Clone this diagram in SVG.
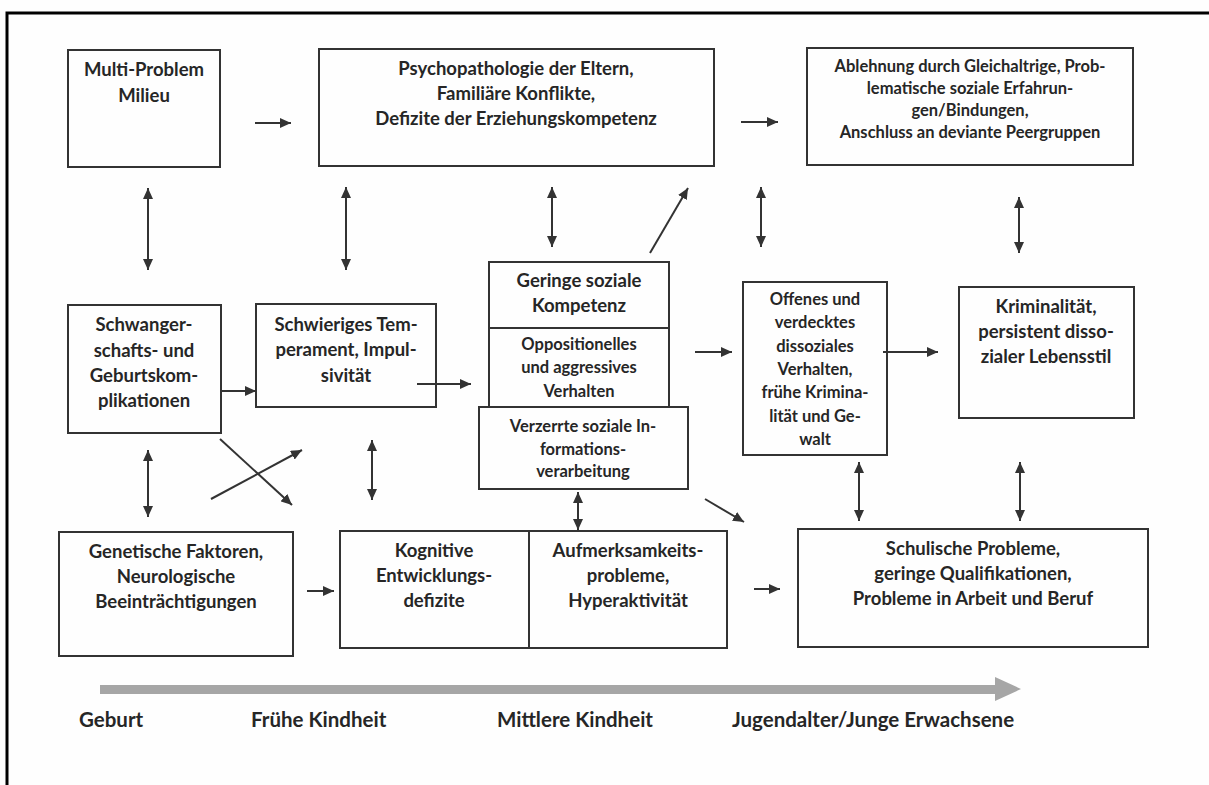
<svg xmlns="http://www.w3.org/2000/svg" width="1209" height="785" viewBox="0 0 1209 785">
<style>
.box{fill:none;stroke:#333;stroke-width:2}
.t{font-family:Lato,"Open Sans","Liberation Sans",sans-serif;font-weight:bold;font-size:18.5px;fill:#262626;text-anchor:middle}
.s{font-size:16.5px}
.lbl{font-family:Lato,"Open Sans","Liberation Sans",sans-serif;font-weight:bold;font-size:20.5px;fill:#262626}
.c{stroke:#333;stroke-width:2;fill:none;marker-end:url(#ah)}
.d{marker-start:url(#ah)}
</style>
<defs>
<marker id="ah" markerUnits="userSpaceOnUse" markerWidth="12" markerHeight="10" refX="11" refY="5" orient="auto-start-reverse">
<path d="M0,0 L11,5 L0,10 z" fill="#333"/>
</marker>
</defs>
<rect x="0" y="0" width="1209" height="785" fill="#fefefe"/>
<path d="M7,785 V13 H1209" fill="none" stroke="#000" stroke-width="3"/>

<g id="n-multi"><rect class="box" x="68" y="50" width="152" height="117"/>
<text class="t" x="144" y="76">Multi-Problem</text><text class="t" x="144" y="102">Milieu</text></g>

<g id="n-psych"><rect class="box" x="319" y="49" width="395" height="117"/>
<text class="t" x="516" y="75">Psychopathologie der Eltern,</text>
<text class="t" x="516" y="100">Familiäre Konflikte,</text>
<text class="t" x="516" y="125">Defizite der Erziehungskompetenz</text></g>

<g id="n-ablehnung"><rect class="box" x="807" y="48" width="326" height="117"/>
<text class="t s" x="970" y="72">Ablehnung durch Gleichaltrige, Prob-</text>
<text class="t s" x="970" y="94">lematische soziale Erfahrun-</text>
<text class="t s" x="970" y="116">gen/Bindungen,</text>
<text class="t s" x="970" y="138">Anschluss an deviante Peergruppen</text></g>

<g id="n-schwanger"><rect class="box" x="68" y="305" width="153" height="128"/>
<text class="t" x="144" y="331">Schwanger-</text>
<text class="t" x="144" y="357">schafts- und</text>
<text class="t" x="144" y="382">Geburtskom-</text>
<text class="t" x="144" y="407">plikationen</text></g>

<g id="n-temperament"><rect class="box" x="256" y="304" width="180" height="103"/>
<text class="t" x="346" y="331">Schwieriges Tem-</text>
<text class="t" x="346" y="356">perament, Impul-</text>
<text class="t" x="346" y="382">sivität</text></g>

<g id="n-geringe"><rect class="box" x="489" y="262" width="180" height="66"/>
<text class="t" x="579" y="287">Geringe soziale</text>
<text class="t" x="579" y="312">Kompetenz</text></g>

<g id="n-opposition"><rect class="box" x="489" y="328" width="180" height="79"/>
<text class="t s" x="579" y="350">Oppositionelles</text>
<text class="t s" x="579" y="373">und aggressives</text>
<text class="t s" x="579" y="397">Verhalten</text></g>

<g id="n-verzerrte"><rect class="box" x="479" y="407" width="209" height="82"/>
<text class="t s" x="583" y="432">Verzerrte soziale In-</text>
<text class="t s" x="583" y="455">formations-</text>
<text class="t s" x="583" y="477">verarbeitung</text></g>

<g id="n-offenes"><rect class="box" x="743" y="282" width="144" height="173"/>
<text class="t s" x="815" y="305">Offenes und</text>
<text class="t s" x="815" y="328">verdecktes</text>
<text class="t s" x="815" y="352">dissoziales</text>
<text class="t s" x="815" y="375">Verhalten,</text>
<text class="t s" x="815" y="398">frühe Krimina-</text>
<text class="t s" x="815" y="422">lität und Ge-</text>
<text class="t s" x="815" y="445">walt</text></g>

<g id="n-kriminalitaet"><rect class="box" x="959" y="287" width="175" height="131"/>
<text class="t" x="1046" y="313">Kriminalität,</text>
<text class="t" x="1046" y="338">persistent disso-</text>
<text class="t" x="1046" y="363">zialer Lebensstil</text></g>

<g id="n-genetische"><rect class="box" x="59" y="532" width="234" height="124"/>
<text class="t" x="176" y="558">Genetische Faktoren,</text>
<text class="t" x="176" y="583">Neurologische</text>
<text class="t" x="176" y="608">Beeinträchtigungen</text></g>

<g id="n-kognitive"><rect class="box" x="340" y="531" width="189" height="117"/>
<text class="t" x="434" y="557">Kognitive</text>
<text class="t" x="434" y="582">Entwicklungs-</text>
<text class="t" x="434" y="607">defizite</text></g>

<g id="n-aufmerksamkeit"><rect class="box" x="529" y="531" width="198" height="117"/>
<text class="t" x="628" y="557">Aufmerksamkeits-</text>
<text class="t" x="628" y="582">probleme,</text>
<text class="t" x="628" y="607">Hyperaktivität</text></g>

<g id="n-schulische"><rect class="box" x="798" y="529" width="350" height="118"/>
<text class="t" x="973" y="555">Schulische Probleme,</text>
<text class="t" x="973" y="580">geringe Qualifikationen,</text>
<text class="t" x="973" y="605">Probleme in Arbeit und Beruf</text></g>

<g id="connectors">
<line class="c" x1="255" y1="123" x2="291" y2="123"/>
<line class="c" x1="741" y1="122" x2="778" y2="122"/>
<line class="c d" x1="148" y1="188" x2="148" y2="270"/>
<line class="c d" x1="346" y1="187" x2="346" y2="270"/>
<line class="c d" x1="552" y1="187" x2="552" y2="247"/>
<line class="c" x1="650" y1="253" x2="688" y2="188"/>
<line class="c d" x1="761" y1="187" x2="761" y2="247"/>
<line class="c d" x1="1019" y1="197" x2="1019" y2="253"/>
<line class="c" x1="221" y1="391" x2="256" y2="391"/>
<line class="c" x1="417" y1="384" x2="471" y2="384"/>
<line class="c" x1="695" y1="352" x2="732" y2="352"/>
<line class="c" x1="883" y1="352" x2="938" y2="352"/>
<line class="c d" x1="148" y1="450" x2="148" y2="517"/>
<line class="c" x1="220" y1="439" x2="292" y2="505"/>
<line class="c" x1="211" y1="499" x2="302" y2="450"/>
<line class="c d" x1="372" y1="440" x2="372" y2="500"/>
<line class="c d" x1="578" y1="492" x2="578" y2="530"/>
<line class="c" x1="705" y1="499" x2="744" y2="522"/>
<line class="c d" x1="859" y1="462" x2="859" y2="521"/>
<line class="c d" x1="1020" y1="462" x2="1020" y2="521"/>
<line class="c" x1="307" y1="591" x2="334" y2="591"/>
<line class="c" x1="754" y1="589" x2="780" y2="589"/>
</g>

<g id="timeline">
<path d="M100,685 H995 V677 L1021,689 L995,701 V694 H100 z" fill="#a6a6a6"/>
<text class="lbl" x="79" y="727">Geburt</text>
<text class="lbl" x="251" y="727">Frühe Kindheit</text>
<text class="lbl" x="497" y="727">Mittlere Kindheit</text>
<text class="lbl" x="732" y="727">Jugendalter/Junge Erwachsene</text>
</g>
</svg>
